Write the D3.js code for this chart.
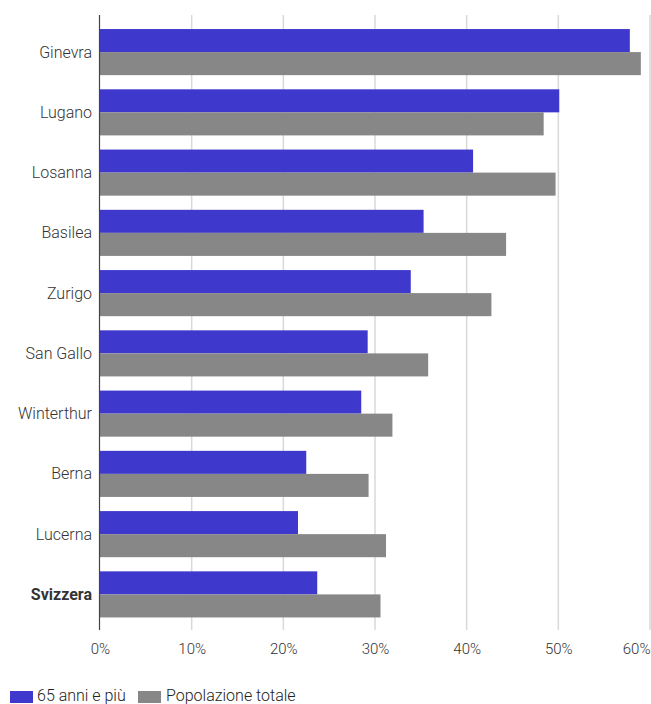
<!DOCTYPE html>
<html><head><meta charset="utf-8">
<script src="https://cdn.jsdelivr.net/npm/d3@7"></script>
<style>body{margin:0;background:#fff}svg{display:block;font-family:Roboto,sans-serif}</style>
</head><body><svg id="c" width="651" height="704"></svg>
<script>
const categories = ["Ginevra","Lugano","Losanna","Basilea","Zurigo","San Gallo","Winterthur","Berna","Lucerna","Svizzera"];
const over65 = [57.8,50.1,40.7,35.3,33.9,29.2,28.5,22.5,21.6,23.7];
const totale = [59.0,48.4,49.7,44.3,42.7,35.8,31.9,29.3,31.2,30.6];
const seriesNames = ["65 anni e più","Popolazione totale"];
const colors = ["#3e38cc","#878787"];
const tickValues = [0,10,20,30,40,50,60];

const svg = d3.select("#c");
const x = d3.scaleLinear().domain([0,60]).range([100,650]);
const y = d3.scaleBand().domain(categories).range([17,629.5]).paddingInner(0.235).paddingOuter(0.2);
const sub = d3.scaleBand().domain([0,1]).range([0,y.bandwidth()]);

// grid
svg.append("g").selectAll("line").data(tickValues.slice(1)).join("line")
  .attr("x1",d=>x(d)).attr("x2",d=>x(d)).attr("y1",15).attr("y2",630)
  .attr("stroke","#d9d9d9").attr("stroke-width",1.5);

const g = svg.append("g").selectAll("g").data(categories).join("g")
  .attr("transform",d=>`translate(0,${y(d)})`);
[over65,totale].forEach((vals,si)=>{
  g.append("rect").attr("x",x(0)).attr("y",sub(si))
   .attr("width",(d,i)=>x(vals[i])-x(0)).attr("height",sub.bandwidth())
   .attr("fill",colors[si]);
});

// y axis line
svg.append("line").attr("x1",99.5).attr("x2",99.5).attr("y1",15).attr("y2",630).attr("stroke","#444").attr("stroke-width",1.2);

// category labels
svg.append("g").selectAll("text").data(categories).join("text")
  .attr("x",92).attr("y",d=>y(d)+y.bandwidth()/2).attr("dy","0.35em")
  .attr("text-anchor","end").attr("font-size",16).attr("fill","#333")
  .attr("font-weight",d=>d==="Svizzera"?700:300).text(d=>d);

// x ticks
const xAxis = d3.axisBottom(x).tickValues(tickValues).tickFormat(d=>d+"%").tickSize(0).tickPadding(0);
const ax = svg.append("g").attr("transform","translate(0,654)").call(xAxis);
ax.select(".domain").remove();
ax.selectAll("text").attr("font-size",15).attr("font-family","Roboto").attr("font-weight",300).attr("fill","#333").attr("dy",0).attr("y",0);
ax.selectAll(".tick").filter(d=>d===60).select("text").attr("text-anchor","end");

// legend
const leg = [{x:10,t:37},{x:138,t:166}];
seriesNames.forEach((s,i)=>{
  svg.append("rect").attr("x",leg[i].x).attr("y",691).attr("width",23).attr("height",12).attr("fill",colors[i]);
  svg.append("text").attr("x",leg[i].t).attr("y",701).attr("font-size",16).attr("font-weight",300).attr("fill","#222").text(s);
});
</script></body></html>
